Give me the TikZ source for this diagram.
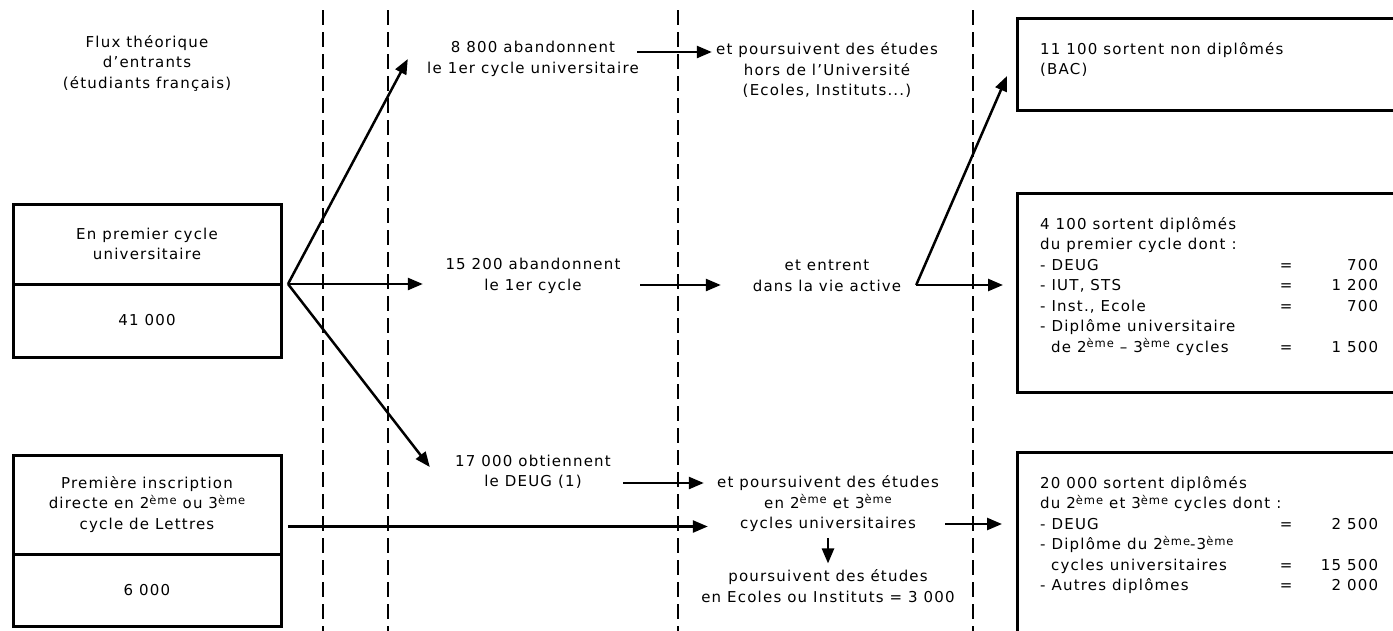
\documentclass[tikz,border=0pt]{standalone}
\usepackage{fontspec}
\setmainfont{DejaVu Sans}[LetterSpace=8]
\usetikzlibrary{arrows.meta,positioning}
\newcommand{\drow}[3]{\makebox[221pt][l]{#1}\makebox[50pt]{#2}\makebox[67pt][r]{#3}}
\newcommand{\eme}{\raisebox{4.5pt}{\fontsize{11.5}{11.5}\selectfont ème}}

\begin{document}
\begin{tikzpicture}[x=1pt,y=-1pt,
	every node/.style={font=\fontsize{15}{20.5}\selectfont},
	txt/.style={align=center,inner sep=0pt},
	lcol/.style={txt,minimum width=240pt},
	rcol/.style={txt,minimum width=280pt},
	cell/.style={draw,line width=3pt,minimum width=268pt,align=center,inner sep=0pt,outer sep=0pt,anchor=north west},
	outbox/.style={draw,line width=3pt,minimum width=420pt,inner sep=0pt,outer sep=0pt,anchor=north west},
	outtxt/.style={align=left,inner sep=0pt,anchor=north west},
	flow/.style={line width=2.5pt,-{Triangle[length=15pt,width=12pt]}},
	divider/.style={line width=2.8pt,dash pattern=on 15pt off 7pt}]
	
	\path[use as bounding box] (0,0) rectangle (1393,630);
	\clip (0,0) rectangle (1393,630);
	
	\foreach \x in {323,388,678,973}
	\draw[divider] (\x,10) -- (\x,640);
	
	\node[txt] (title) at (147,63) {Flux théorique\\d’entrants\\(étudiants français)};
	
	\node[cell,minimum height=80pt] (a1) at (13,204) {En premier cycle\\universitaire};
	\node[cell,minimum height=73pt] (a2) at (a1.south west) {41 000};
	\node[cell,minimum height=99pt] (b1) at (13,455) {Première inscription\\directe en 2\eme{} ou 3\eme\\cycle de Lettres};
	\node[cell,minimum height=72pt] (b2) at (b1.south west) {6 000};
	
	\node[lcol] (m1) at (533,59) {8 800 abandonnent\\le 1er cycle universitaire};
	\node[rcol] (m2) at (827,70) {et poursuivent des études\\hors de l’Université\\(Ecoles, Instituts...)};
	\node[lcol] (m3) at (533,276) {15 200 abandonnent\\le 1er cycle};
	\node[rcol] (m4) at (827,276) {et entrent\\dans la vie active};
	\node[lcol] (m5) at (533,472) {17 000 obtiennent\\le DEUG (1)};
	\node[rcol] (m6) at (828,504) {et poursuivent des études\\en 2\eme{} et 3\eme\\cycles universitaires};
	\node[rcol] (m7) at (828,586) {poursuivent des études\\en Ecoles ou Instituts = 3 000};
	
	\node[outbox,minimum height=92pt] (r1) at (1017,18) {};
	\node[outbox,minimum height=199pt] (r2) at (1017,193) {};
	\node[outbox,minimum height=200pt] (r3) at (1017,452) {};
	
	\node[outtxt] (r1t) at ([xshift=23pt,yshift=-24pt]r1.north west) {11 100 sortent non diplômés\\(BAC)};
	\node[outtxt] (r2t) at ([xshift=23pt,yshift=-24pt]r2.north west) {4 100 sortent diplômés\\
		du premier cycle dont :\\
		\drow{- DEUG}{=}{700}\\
		\drow{- IUT, STS}{=}{1 200}\\
		\drow{- Inst., Ecole}{=}{700}\\
		- Diplôme universitaire\\
		\drow{\hspace*{11pt}de 2\eme{} -- 3\eme{} cycles}{=}{1 500}};
	\node[outtxt] (r3t) at ([xshift=23pt,yshift=-24pt]r3.north west) {20 000 sortent diplômés\\
		du 2\eme{} et 3\eme{} cycles dont :\\
		\drow{- DEUG}{=}{2 500}\\
		- Diplôme du 2\eme-3\eme\\
		\drow{\hspace*{11pt}cycles universitaires}{=}{15 500}\\
		\drow{- Autres diplômes}{=}{2 000}};
	
	\coordinate (fan) at ([xshift=7pt]a1.south east);
	\draw[flow] (fan) -- ([xshift=-5pt]m1.west);
	\draw[flow] (fan) -- ([xshift=10pt,yshift=-8pt]m3.west);
	\draw[flow] (fan) -- ([xshift=17pt,yshift=5pt]m5.west);
	
	\draw[flow] ([xshift=-16pt,yshift=7pt]m1.east) coordinate (t1) -- ([xshift=25pt]m2.west |- t1);
	\draw[flow] ([xshift=-13pt,yshift=-9pt]m3.east) coordinate (t3) -- ([xshift=34pt]m4.west |- t3);
	\draw[flow] ([xshift=-30pt,yshift=-11pt]m5.east) coordinate (t5) -- ([xshift=16pt]m6.west |- t5);
	\draw[flow] ([xshift=7pt,yshift=-22pt]b1.east) coordinate (tb) -- ([xshift=20pt]m6.west |- tb);
	\draw[flow] ([xshift=-23pt,yshift=-20pt]m6.east) coordinate (t6) -- ([xshift=-15pt]r3.west |- t6);
	\draw[flow,shorten <=6pt,shorten >=6pt] (m6.south) -- (m7.north);
	
	\draw[flow] ([xshift=-51pt,yshift=-9pt]m4.east) coordinate (c) -- ([xshift=-10pt,yshift=-12pt]r1.west);
	\draw[flow] (c) -- ([xshift=-14pt]r2.west |- c);
	
\end{tikzpicture}
\end{document}
